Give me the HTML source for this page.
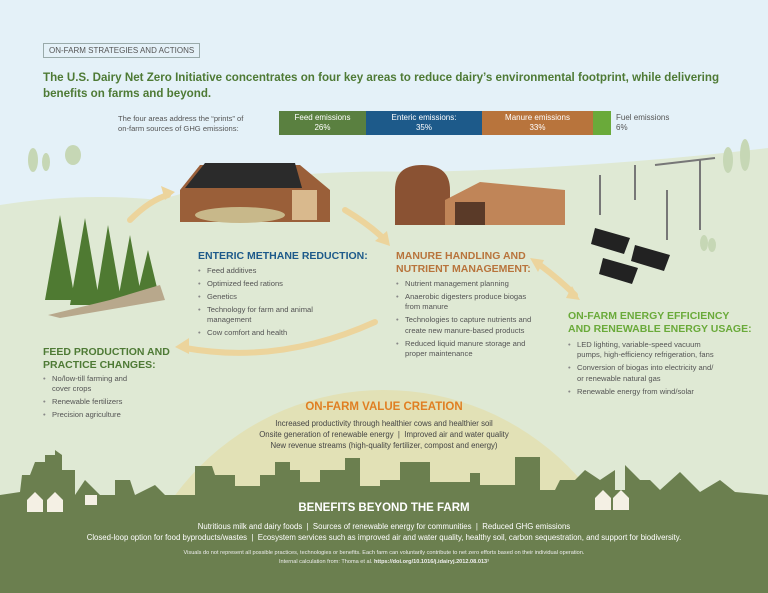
<!DOCTYPE html>
<html><head><meta charset="utf-8"><style>
*{margin:0;padding:0;box-sizing:border-box}
html,body{width:768px;height:593px;overflow:hidden}
body{font-family:"Liberation Sans",sans-serif;position:relative;background:#e4f1f8}
.a{position:absolute;white-space:nowrap}
h3{position:absolute;font-size:10.5px;font-weight:bold;line-height:13px;white-space:nowrap;margin:0}
ul{position:absolute;list-style:none;font-size:7.6px;color:#555;line-height:10.4px;margin:0}
ul li{padding-left:9px;position:relative;margin-bottom:2.5px}
ul li:before{content:"•";position:absolute;left:0;color:#888}
</style></head><body>
<svg class="a" style="left:0;top:0" width="768" height="593">
<path d="M0 205 Q80 192 160 200 Q260 168 420 172 Q600 168 768 148 L768 593 L0 593Z" fill="#dfe9d4"/>
<circle cx="384" cy="650" r="260" fill="#e2e1b6"/>
<path d="M0 510 L0 495 L20 492 L22 475 L30 475 L35 462 L45 462 L45 455 L55 455 L55 450 L62 455 L62 470 L75 470 L75 495 L85 480 L100 495 L115 495 L115 480 L130 480 L135 495 L155 485 L165 495 L195 495 L195 466 L212 466 L215 475 L235 475 L235 486 L260 486 L260 475 L275 475 L275 462 L290 462 L290 470 L300 470 L300 482 L320 482 L320 470 L345 470 L345 458 L360 458 L360 486 L380 486 L380 480 L400 480 L400 462 L430 462 L430 482 L470 482 L470 473 L480 473 L480 485 L515 485 L515 457 L540 457 L540 490 L555 490 L560 480 L575 480 L585 470 L600 480 L615 470 L615 490 L625 490 L625 465 L640 480 L650 480 L660 490 L680 472 L700 492 L720 480 L735 492 L768 495 L768 593 L0 593Z" fill="#6b7f4f"/>
<g fill="#f4f0e4"><path d="M27 500 l8-8 8 8v12h-16z M47 500 l8-8 8 8v12h-16z M85 495h12v10h-12z M595 498 l8-8 8 8v12h-16z M613 498 l8-8 8 8v12h-16z"/></g>
<g fill="#c6d7b5"><ellipse cx="33" cy="160" rx="5" ry="12"/><ellipse cx="46" cy="162" rx="4" ry="9"/><ellipse cx="73" cy="155" rx="8" ry="10"/><ellipse cx="728" cy="160" rx="5" ry="13"/><ellipse cx="745" cy="155" rx="5" ry="16"/><ellipse cx="704" cy="243" rx="4" ry="8"/><ellipse cx="712" cy="245" rx="4" ry="7"/></g>
<path d="M180 190 L200 165 L300 165 L330 190 L330 222 L180 222Z" fill="#9a5f39"/>
<path d="M185 188 L205 163 L295 163 L302 188Z" fill="#2b2b2b"/>
<rect x="292" y="190" width="25" height="30" fill="#d9b98d"/>
<ellipse cx="240" cy="215" rx="45" ry="8" fill="#c8b88a"/>
<path d="M395 190 Q395 165 422 165 Q450 165 450 190 L450 225 L395 225Z" fill="#8a5233"/>
<path d="M445 200 L480 182 L565 190 L565 225 L445 225Z" fill="#c08558"/>
<rect x="455" y="202" width="30" height="23" fill="#5a3a28"/>
<g fill="#222"><path d="M595 228l35 10-6 16-33-10z M635 245l35 10-6 16-33-10z M603 258l35 10-6 16-33-10z"/></g>
<g stroke="#777" stroke-width="2"><line x1="600" y1="175" x2="600" y2="215"/><line x1="635" y1="165" x2="635" y2="200"/><line x1="700" y1="160" x2="700" y2="230"/><line x1="667" y1="190" x2="667" y2="240"/><line x1="655" y1="165" x2="715" y2="158"/></g>
<g fill="#4f7a32"><path d="M45 300 L60 215 L75 300Z M70 305 L85 218 L100 305Z M95 305 L108 225 L122 305Z M118 300 L130 235 L142 300Z M138 292 L148 250 L158 292Z"/></g>
<path d="M48 315 L110 300 L160 285 L165 300 L60 318Z" fill="#b8a88c"/>
<g fill="none" stroke="#ecd49c" stroke-width="6" stroke-linecap="round"><path d="M130 220 Q150 200 168 195"/><path d="M345 210 Q370 225 385 240"/><path d="M540 265 Q560 280 575 295"/><path d="M375 322 Q280 365 185 348"/></g>
<g fill="#ecd49c"><path d="M175 192l-14-6 4 14z M390 246l-3-15-12 10z M530 258l14 2-6 12z M580 300l-14-2 6-12z M175 347l14-9v16z"/></g>
</svg>
<div class="a" style="left:43px;top:43px;border:1px solid #9aa;padding:2px 5px;font-size:8px;color:#555">ON-FARM STRATEGIES AND ACTIONS</div>
<div class="a" style="left:43px;top:70px;font-size:11.6px;font-weight:bold;color:#4e7a35;line-height:16px;white-space:nowrap">The U.S. Dairy Net Zero Initiative concentrates on four key areas to reduce dairy’s environmental footprint, while delivering<br>benefits on farms and beyond.</div>
<div class="a" style="left:118px;top:114px;font-size:7.6px;color:#555;line-height:10px">The four areas address the “prints” of<br>on-farm sources of GHG emissions:</div>
<div class="a" style="left:279px;top:111px;width:87px;height:24px;background:#5a8040;color:#fff;font-size:8px;text-align:center;line-height:10px;padding-top:2px">Feed emissions<br>26%</div>
<div class="a" style="left:366px;top:111px;width:116px;height:24px;background:#1d5a8a;color:#fff;font-size:8px;text-align:center;line-height:10px;padding-top:2px">Enteric emissions:<br>35%</div>
<div class="a" style="left:482px;top:111px;width:111px;height:24px;background:#b8743c;color:#fff;font-size:8px;text-align:center;line-height:10px;padding-top:2px">Manure emissions<br>33%</div>
<div class="a" style="left:593px;top:111px;width:18px;height:24px;background:#6aaa3a"></div>
<div class="a" style="left:616px;top:113px;font-size:8px;color:#555;line-height:10px">Fuel emissions<br>6%</div>
<h3 style="left:198px;top:250px;color:#1d5a8a">ENTERIC METHANE REDUCTION:</h3>
<ul style="left:198px;top:266px"><li>Feed additives</li><li>Optimized feed rations</li><li>Genetics</li><li>Technology for farm and animal<br>management</li><li>Cow comfort and health</li></ul>
<h3 style="left:396px;top:250px;color:#b8743c">MANURE HANDLING AND<br>NUTRIENT MANAGEMENT:</h3>
<ul style="left:396px;top:279px"><li>Nutrient management planning</li><li>Anaerobic digesters produce biogas<br>from manure</li><li>Technologies to capture nutrients and<br>create new manure-based products</li><li>Reduced liquid manure storage and<br>proper maintenance</li></ul>
<h3 style="left:568px;top:310px;color:#6aaa3a">ON-FARM ENERGY EFFICIENCY<br>AND RENEWABLE ENERGY USAGE:</h3>
<ul style="left:568px;top:340px"><li>LED lighting, variable-speed vacuum<br>pumps, high-efficiency refrigeration, fans</li><li>Conversion of biogas into electricity and/<br>or renewable natural gas</li><li>Renewable energy from wind/solar</li></ul>
<h3 style="left:43px;top:346px;color:#4e7a35">FEED PRODUCTION AND<br>PRACTICE CHANGES:</h3>
<ul style="left:43px;top:374px"><li>No/low-till farming and<br>cover crops</li><li>Renewable fertilizers</li><li>Precision agriculture</li></ul>
<div class="a" style="left:0;width:768px;top:401px;text-align:center;font-size:11.5px;font-weight:bold;color:#e07f22">ON-FARM VALUE CREATION</div>
<div class="a" style="left:0;width:768px;top:419px;text-align:center;font-size:7.8px;color:#444;line-height:10.8px">Increased productivity through healthier cows and healthier soil<br>Onsite generation of renewable energy &nbsp;|&nbsp; Improved air and water quality<br>New revenue streams (high-quality fertilizer, compost and energy)</div>
<div class="a" style="left:0;width:768px;top:502px;text-align:center;font-size:11.5px;font-weight:bold;color:#fff">BENEFITS BEYOND THE FARM</div>
<div class="a" style="left:0;width:768px;top:521px;text-align:center;font-size:7.8px;color:#fff;line-height:11px">Nutritious milk and dairy foods &nbsp;|&nbsp; Sources of renewable energy for communities &nbsp;|&nbsp; Reduced GHG emissions<br>Closed-loop option for food byproducts/wastes &nbsp;|&nbsp; Ecosystem services such as improved air and water quality, healthy soil, carbon sequestration, and support for biodiversity.</div>
<div class="a" style="left:0;width:768px;top:549px;text-align:center;font-size:5.6px;color:#eee;line-height:9px">Visuals do not represent all possible practices, technologies or benefits. Each farm can voluntarily contribute to net zero efforts based on their individual operation.<br>Internal calculation from: Thoma et al. <b>https://doi.org/10.1016/j.idairyj.2012.08.013</b>³</div>
</body></html>
